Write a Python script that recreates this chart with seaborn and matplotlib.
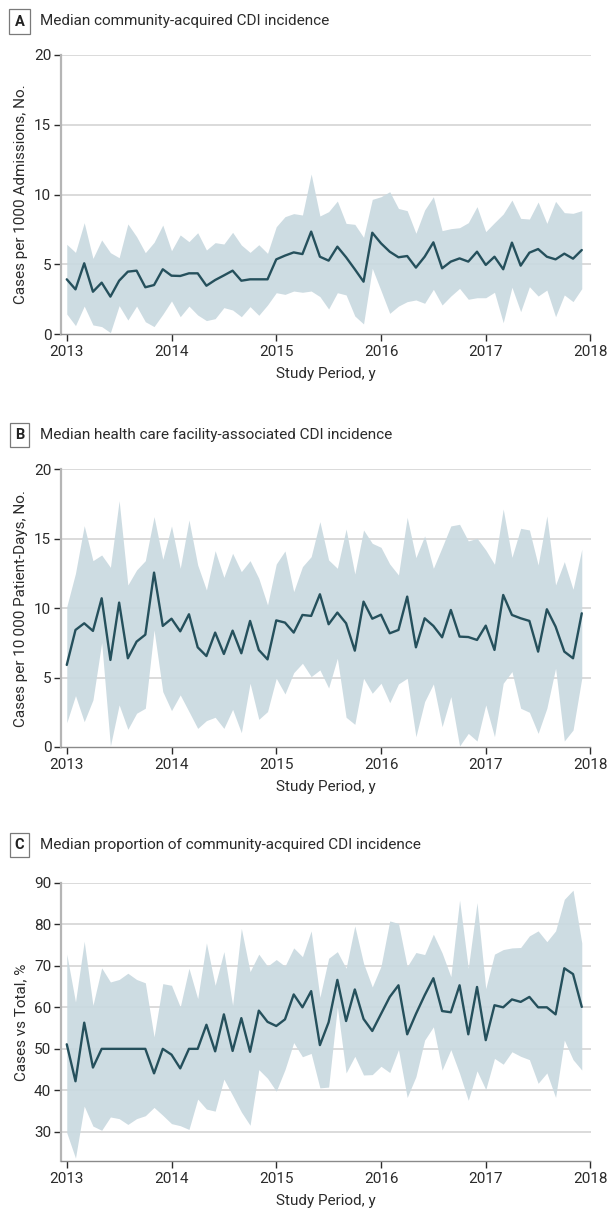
import numpy as np
import pandas as pd
import matplotlib
matplotlib.use("Agg")
import matplotlib.pyplot as plt
import seaborn as sns

# ---- Data (monthly, Jan 2013 - Dec 2017) ----
months = np.arange(60)

a_median = [3.92, 3.2, 5.07, 3.03, 3.68, 2.68, 3.82, 4.47, 4.54, 3.35, 3.51, 4.64,
            4.18, 4.16, 4.35, 4.35, 3.46, 3.87, 4.2, 4.54, 3.82, 3.92, 3.92, 3.92,
            5.35, 5.62, 5.85, 5.73, 7.34, 5.54, 5.26, 6.26, 5.5, 4.64, 3.75, 7.26,
            6.5, 5.9, 5.5, 5.59, 4.76, 5.54, 6.57, 4.71, 5.19, 5.42, 5.19, 5.9,
            4.95, 5.54, 4.64, 6.55, 4.9, 5.83, 6.09, 5.54, 5.35, 5.76, 5.4, 6.02]
a_upper = [6.43, 5.85, 7.98, 5.42, 6.74, 5.83, 5.47, 7.89, 6.98, 5.83, 6.57, 7.81,
           5.97, 7.1, 6.62, 7.26, 6.02, 6.55, 6.45, 7.29, 6.38, 5.85, 6.4, 5.78,
           7.69, 8.41, 8.63, 8.53, 11.47, 8.46, 8.77, 9.53, 7.93, 7.86, 6.93, 9.65,
           9.84, 10.2, 9.0, 8.84, 7.22, 8.89, 9.84, 7.41, 7.55, 7.62, 7.98, 9.13,
           7.34, 7.98, 8.6, 9.6, 8.29, 8.24, 9.46, 7.93, 9.51, 8.7, 8.65, 8.84]
a_lower = [1.43, 0.6, 2.0, 0.65, 0.53, 0.1, 2.03, 1.0, 2.0, 0.88, 0.53, 1.41,
           2.37, 1.24, 2.0, 1.36, 0.96, 1.1, 1.89, 1.72, 1.24, 1.96, 1.34, 2.08,
           2.96, 2.84, 3.08, 2.99, 3.08, 2.68, 1.79, 2.96, 2.8, 1.29, 0.72, 4.71,
           3.11, 1.48, 2.0, 2.32, 2.44, 2.2, 3.2, 2.08, 2.72, 3.27, 2.49, 2.6,
           2.6, 2.99, 0.81, 3.35, 1.6, 3.39, 2.72, 3.15, 1.24, 2.8, 2.32, 3.25]

b_median = [5.91, 8.43, 8.91, 8.36, 10.71, 6.27, 10.4, 6.39, 7.59, 8.09, 12.56, 8.72,
            9.24, 8.33, 9.56, 7.18, 6.55, 8.24, 6.7, 8.38, 6.75, 9.08, 6.99, 6.31,
            9.12, 8.96, 8.24, 9.51, 9.44, 11.0, 8.84, 9.68, 8.91, 6.94, 10.47, 9.24,
            9.53, 8.19, 8.43, 10.83, 7.18, 9.27, 8.72, 7.9, 9.87, 7.95, 7.92, 7.71,
            8.74, 6.99, 10.95, 9.51, 9.27, 9.08, 6.87, 9.92, 8.67, 6.87, 6.39, 9.63]
b_upper = [10.11, 12.51, 15.94, 13.42, 13.83, 12.94, 17.74, 11.67, 12.75, 13.42, 16.59, 13.52,
           15.92, 12.87, 16.35, 13.11, 11.31, 14.14, 12.22, 13.95, 12.63, 13.42, 12.15, 10.23,
           13.18, 14.12, 11.19, 12.99, 13.71, 16.23, 13.47, 12.87, 15.7, 12.46, 15.63, 14.67,
           14.38, 13.18, 12.39, 16.54, 13.64, 15.2, 12.87, 14.38, 15.92, 16.04, 14.84, 15.03,
           14.19, 13.16, 17.14, 13.66, 15.75, 15.63, 13.11, 16.64, 11.67, 13.35, 11.36, 14.24]
b_lower = [1.75, 3.7, 1.82, 3.39, 7.52, 0.07, 3.03, 1.27, 2.43, 2.79, 8.43, 3.99,
           2.62, 3.75, 2.55, 1.34, 1.9, 2.14, 1.34, 2.71, 1.03, 4.59, 1.99, 2.55,
           4.95, 3.82, 5.35, 6.03, 5.07, 5.55, 4.25, 6.39, 2.14, 1.63, 4.95, 3.87,
           4.59, 3.19, 4.54, 4.95, 0.74, 3.27, 4.54, 1.46, 3.63, 0.07, 0.98, 0.43,
           3.03, 0.74, 4.59, 5.43, 2.79, 2.5, 0.98, 2.79, 5.67, 0.43, 1.22, 4.95]

c_median = [51.1, 42.2, 56.3, 45.5, 50.0, 50.0, 50.0, 50.0, 50.0, 50.0, 44.1, 50.0,
            48.6, 45.3, 50.0, 50.0, 55.8, 49.4, 58.3, 49.5, 57.4, 49.3, 59.2, 56.5,
            55.5, 57.1, 63.1, 60.0, 63.9, 50.9, 56.4, 66.6, 56.7, 64.3, 57.2, 54.3,
            58.4, 62.5, 65.3, 53.5, 58.4, 62.9, 67.0, 59.1, 58.8, 65.3, 53.5, 64.9,
            52.1, 60.5, 60.0, 61.9, 61.3, 62.5, 60.0, 60.0, 58.3, 69.4, 68.0, 60.1]
c_upper = [72.8, 61.3, 75.9, 60.5, 69.5, 66.1, 66.7, 68.2, 66.7, 65.9, 52.9, 65.7,
           65.3, 60.1, 69.4, 62.1, 75.5, 65.3, 73.4, 60.5, 79.0, 68.6, 72.8, 69.9,
           71.5, 69.9, 74.3, 72.2, 78.4, 62.4, 71.8, 73.4, 69.4, 79.6, 70.6, 64.9,
           69.9, 80.8, 80.2, 69.8, 73.2, 72.7, 77.6, 73.1, 67.4, 85.8, 69.4, 85.2,
           64.5, 72.8, 73.9, 74.3, 74.4, 77.2, 78.4, 75.8, 78.4, 86.0, 88.2, 75.5]
c_lower = [29.8, 23.7, 36.2, 31.4, 30.4, 33.6, 33.2, 31.8, 33.2, 33.9, 35.9, 34.0,
           32.0, 31.5, 30.6, 37.9, 35.5, 35.0, 42.7, 38.8, 34.8, 31.6, 45.0, 42.9,
           39.8, 45.0, 51.5, 48.1, 48.9, 40.6, 40.8, 60.1, 44.2, 48.2, 43.7, 43.8,
           45.8, 44.3, 49.8, 38.3, 43.3, 52.1, 55.3, 44.9, 49.8, 44.1, 37.6, 44.7,
           40.2, 47.7, 46.3, 49.3, 48.2, 47.4, 41.7, 44.2, 38.3, 52.1, 47.4, 44.9]

years = [2013, 2014, 2015, 2016, 2017, 2018]

panels = [
    dict(letter="A", title="Median community-acquired CDI incidence",
         ylabel="Cases per 1000 Admissions, No.", med=a_median, lo=a_lower, hi=a_upper,
         ylim=(0, 20), yticks=[0, 5, 10, 15, 20]),
    dict(letter="B", title="Median health care facility-associated CDI incidence",
         ylabel="Cases per 10\u2009000 Patient-Days, No.", med=b_median, lo=b_lower, hi=b_upper,
         ylim=(0, 20), yticks=[0, 5, 10, 15, 20]),
    dict(letter="C", title="Median proportion of community-acquired CDI incidence",
         ylabel="Cases vs Total, %", med=c_median, lo=c_lower, hi=c_upper,
         ylim=(23, 90), yticks=[30, 40, 50, 60, 70, 80, 90]),
]

sns.set_theme(style="white")
plt.rcParams['font.family'] = ['Roboto', 'DejaVu Sans']

W, H = 609, 1213
fig = plt.figure(figsize=(W / 100, H / 100), dpi=100)

line_color = "#25505C"
band_color = "#C9D9E0"
grid_color = "#DADADA"
text_color = "#2B2B2B"

# axes pixel boxes: (top, bottom)
boxes = [(55, 334), (469.3, 747), (882.7, 1161)]
title_y = [21.5, 435, 845]
left, right = 61, 590.5

for p, (top, bot), ty in zip(panels, boxes, title_y):
    ax = fig.add_axes([left / W, 1 - bot / H, (right - left) / W, (bot - top) / H])
    df = pd.DataFrame({"year": 2013 + months / 12.0, "median": p["med"],
                       "lo": p["lo"], "hi": p["hi"]})
    for yv in p["yticks"]:
        if yv != p["ylim"][0]:
            ax.axhline(yv, color=grid_color, lw=1.4, zorder=1)
    ax.fill_between(df["year"], df["lo"], df["hi"], color=band_color, alpha=0.92,
                    lw=0, zorder=2)
    sns.lineplot(data=df, x="year", y="median", ax=ax, color=line_color, lw=1.7,
                 zorder=3)
    ax.set_xlim(2012.945, 2018.0)
    ax.set_ylim(*p["ylim"])
    ax.set_xticks(years)
    ax.set_xticklabels([str(y) for y in years])
    ax.set_yticks(p["yticks"])
    ax.set_xlabel("Study Period, y", fontsize=11, color=text_color, labelpad=6)
    ax.set_ylabel(p["ylabel"], fontsize=11, color=text_color, labelpad=4)
    ax.tick_params(axis="both", labelsize=11, colors=text_color, length=5, width=1,
                   direction="out", left=True, bottom=True)
    ax.tick_params(axis="y", pad=2)
    ax.tick_params(axis="x", pad=3)
    for s in ["top", "right"]:
        ax.spines[s].set_visible(False)
    ax.spines["left"].set_color("#B5B5B5")
    ax.spines["left"].set_linewidth(1.6)
    ax.spines["bottom"].set_color("#8A8A8A")
    ax.spines["bottom"].set_linewidth(1.0)
    ax.grid(False)

    fig.text(19.5 / W, 1 - ty / H, p["letter"], fontsize=10.5, fontweight="bold",
             color="#222222", ha="center", va="center",
             bbox=dict(boxstyle="square,pad=0.35", facecolor="white",
                       edgecolor="#7A7A7A", linewidth=0.9))
    fig.text(40 / W, 1 - ty / H, p["title"], fontsize=11, color=text_color,
             ha="left", va="center")

fig.savefig("out.png", dpi=100)
